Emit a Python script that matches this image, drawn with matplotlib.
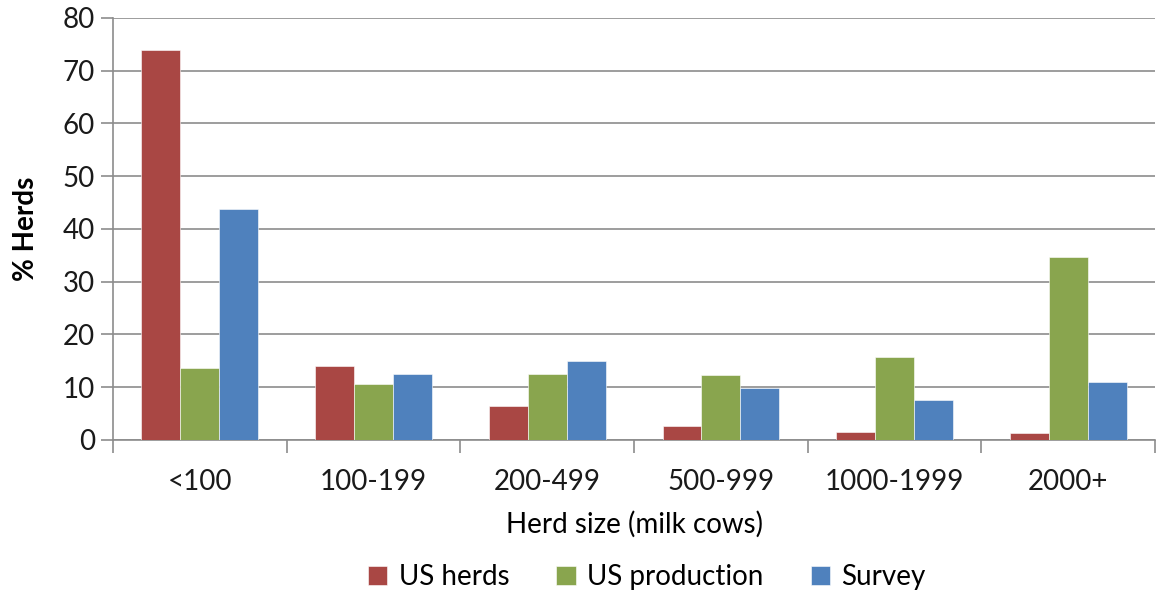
import numpy as np
import matplotlib.pyplot as plt

categories = ['<100', '100-199', '200-499', '500-999', '1000-1999', '2000+']
us_herds = [74.0, 14.0, 6.5, 2.6, 1.5, 1.3]
us_production = [13.6, 10.6, 12.5, 12.3, 15.8, 34.6]
survey = [43.8, 12.5, 15.0, 9.9, 7.5, 10.9]

series = [
    ('US herds', us_herds, '#A94744'),
    ('US production', us_production, '#89A54E'),
    ('Survey', survey, '#4F81BD'),
]


def main():
    plt.rcParams['font.family'] = ['Lato', 'DejaVu Sans']

    fig = plt.figure(figsize=(11.61, 5.92), dpi=100)
    ax = fig.add_axes([0.0973, 0.2568, 0.8977, 0.7128])

    x = np.arange(len(categories))
    width = 0.224
    for i, (name, vals, color) in enumerate(series):
        ax.bar(x + (i - 1) * width, vals, width, color=color, label=name,
               edgecolor='white', linewidth=0.4, zorder=3)

    ax.set_xlim(-0.5, len(categories) - 0.5)
    ax.set_ylim(0, 80)
    ax.set_yticks(range(0, 81, 10))
    ax.yaxis.grid(True, color='#8C8C8C', linewidth=1.2, zorder=0)

    # category labels between boundary ticks
    ax.set_xticks(np.arange(-0.5, len(categories) + 0.5, 1))
    ax.set_xticklabels([])
    ax.set_xticks(x, minor=True)
    ax.set_xticklabels(categories, minor=True, fontsize=20, color='#1a1a1a')
    ax.tick_params(axis='x', which='minor', length=0, pad=21)
    ax.tick_params(axis='x', which='major', length=9, width=1.2, color='#8C8C8C')
    ax.tick_params(axis='y', length=9, width=1.2, color='#8C8C8C',
                   labelsize=20, labelcolor='#1a1a1a', pad=4)

    for s in ['top', 'right']:
        ax.spines[s].set_visible(False)
    for s in ['left', 'bottom']:
        ax.spines[s].set_color('#8C8C8C')
        ax.spines[s].set_linewidth(1.2)

    ax.set_ylabel('% Herds', fontsize=20, fontweight='bold', labelpad=17)
    ax.set_xlabel('Herd size (milk cows)', fontsize=20, labelpad=11)

    fig.legend(*ax.get_legend_handles_labels(), loc='center',
               bbox_to_anchor=(0.557, 0.025), ncol=3, frameon=False,
               fontsize=20, handlelength=0.7, handleheight=0.7,
               handletextpad=0.4, columnspacing=1.7, borderpad=0)

    fig.savefig('out.png', dpi=100)


if __name__ == '__main__':
    main()
